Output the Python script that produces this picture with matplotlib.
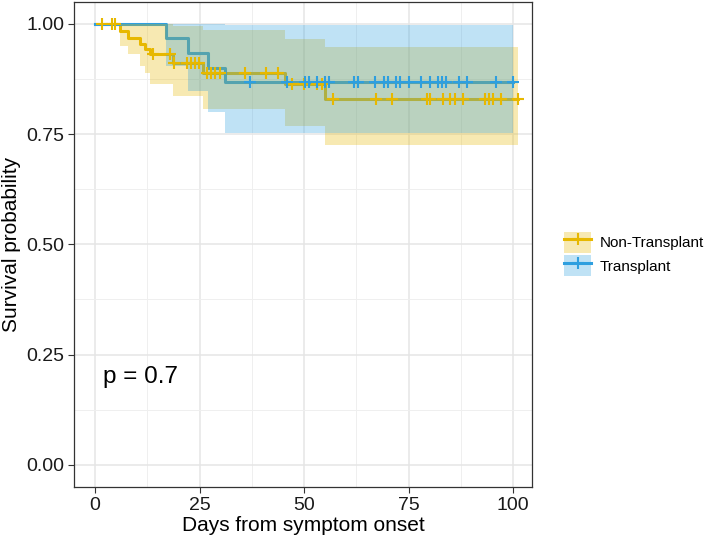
import matplotlib
matplotlib.use("Agg")
import matplotlib.pyplot as plt
from matplotlib.patches import Patch
from matplotlib.lines import Line2D
import numpy as np

plt.rcParams['font.family'] = ['Liberation Sans', 'DejaVu Sans']

# Kaplan-Meier steps
nt_time = [0, 6.0, 8.0, 10.8, 11.9, 13.1, 18.7, 25.9, 45.4, 55.0, 101.1]
nt_surv = [1.0, 0.983, 0.968, 0.955, 0.942, 0.931, 0.912, 0.889, 0.863, 0.829, 0.829]
nt_lower = [1.0, 0.950, 0.931, 0.905, 0.889, 0.863, 0.836, 0.806, 0.769, 0.725, 0.725]
nt_upper = [1.0, 1.0, 1.0, 1.0, 1.0, 1.0, 0.995, 0.985, 0.965, 0.947, 0.947]
nt_censor = [1.8, 4.0, 4.8, 13.9, 17.9, 18.9, 22.1, 22.9, 23.9, 24.9,
             26.7, 27.7, 28.8, 29.9, 35.8, 41.0, 43.7,
             47.0, 50.0, 53.0, 54.2,
             56.9, 67.1, 71.1, 79.3, 80.0, 83.2, 84.8, 86.0, 88.0,
             93.2, 94.1, 95.2, 97.2, 101.1]

tr_time = [0, 17.1, 22.3, 27.1, 31.1, 100.0]
tr_surv = [1.0, 0.967, 0.933, 0.900, 0.867, 0.867]
tr_lower = [1.0, 0.905, 0.848, 0.799, 0.753, 0.753]
tr_upper = [1.0, 1.0, 1.0, 1.0, 0.997, 0.997]
tr_censor = [37.0, 46.0, 50.2, 51.2, 53.0, 55.0, 56.0, 62.0, 63.0, 67.0,
             69.0, 70.0, 72.0, 73.0, 75.0, 78.0, 80.0, 82.0, 83.0, 84.0,
             87.0, 89.0, 96.0, 100.0]

groups = ["Non-Transplant", "Transplant"]
colors = ["#E7B800", "#2E9FDF"]


def surv_at(times, surv, t):
    idx = np.searchsorted(times, t, side='right') - 1
    return np.asarray(surv)[idx]


fig = plt.figure(figsize=(7.09, 5.38), dpi=100)
ax = fig.add_axes([0.1044, 0.095, 0.646, 0.9018])

data = [(nt_time, nt_surv, nt_lower, nt_upper, nt_censor),
        (tr_time, tr_surv, tr_lower, tr_upper, tr_censor)]

# lines first, then the ribbons over them, then the censor marks
for (t, s, lo, up, cens), col in zip(data, colors):
    ax.step(t, s, where='post', color=col, lw=2.2, zorder=3)
for (t, s, lo, up, cens), col in zip(data, colors):
    ax.fill_between(t, lo, up, step='post', color=col, alpha=0.3, lw=0, zorder=4)
for (t, s, lo, up, cens), col in zip(data, colors):
    ax.plot(cens, surv_at(t, s, cens), ls='none', marker='+', ms=8,
            mew=1.5, color=col, zorder=5)

ax.text(2, 0.2, "p = 0.7", fontsize=17.5, ha='left', va='center', color='black')

ax.set_xlim(-5.0, 104.5)
ax.set_ylim(-0.05, 1.05)
ax.set_xticks([0, 25, 50, 75, 100])
ax.set_xticks([12.5, 37.5, 62.5, 87.5], minor=True)
ax.set_yticks([0, 0.25, 0.5, 0.75, 1.0])
ax.set_yticklabels(["0.00", "0.25", "0.50", "0.75", "1.00"])
ax.set_yticks([0.125, 0.375, 0.625, 0.875], minor=True)
ax.grid(True, which='major', color='#E5E5E5', lw=1.1, zorder=0)
ax.grid(True, which='minor', color='#EFEFEF', lw=0.7, zorder=0)
ax.set_axisbelow(True)
ax.tick_params(which='major', length=4, width=0.8, color='#333333',
               labelsize=14, labelcolor='#1A1A1A', pad=3)
ax.tick_params(which='minor', length=0)
for sp in ax.spines.values():
    sp.set_color('#333333')
    sp.set_linewidth(0.9)

ax.set_xlabel("Days from symptom onset", fontsize=15, labelpad=2)
ax.set_ylabel("Survival probability", fontsize=15, labelpad=4)

handles = [(Patch(facecolor=c, alpha=0.3, lw=0),
            Line2D([], [], color=c, lw=2.2, marker='+', ms=8, mew=1.5))
           for c in colors]
fig.legend(handles, groups, loc='center left', bbox_to_anchor=(0.7875, 0.528),
           frameon=False, fontsize=11, handlelength=1.75, handleheight=1.75,
           labelspacing=0.15, handletextpad=0.55, borderaxespad=0)

fig.savefig("out.png", dpi=100)
